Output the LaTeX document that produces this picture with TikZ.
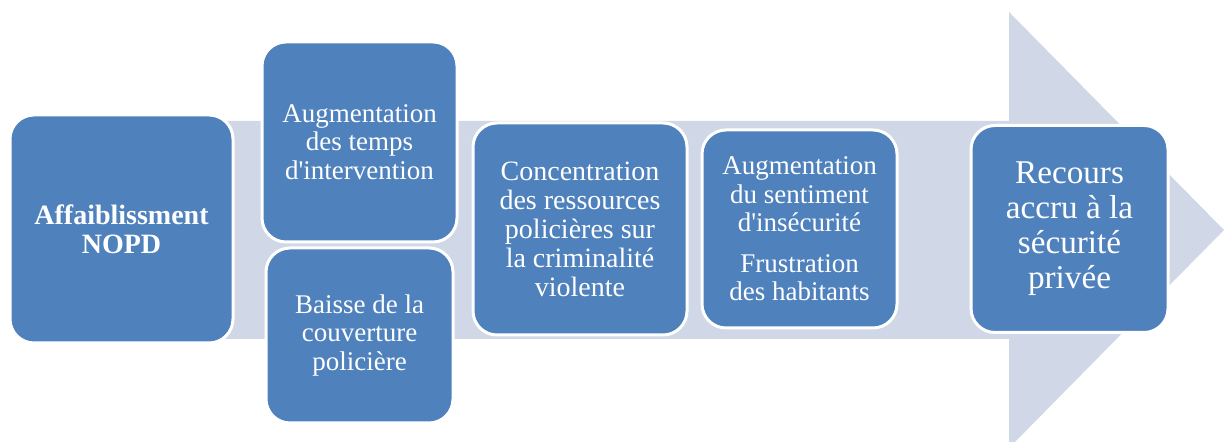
\documentclass[tikz,border=0pt]{standalone}
\usepackage{fontspec}
\setmainfont{Liberation Serif}
\usetikzlibrary{positioning}
\definecolor{stageblue}{RGB}{79,129,189}
\definecolor{arrowgrey}{RGB}{208,216,232}
\tikzset{
  % Boxes laid on the arrow
  stage/.style={rectangle, rounded corners=12pt, draw=white, line width=1.5pt, fill=stageblue, text=white, align=center, inner sep=2pt, font=\fontsize{13.5}{14.3}\selectfont},
  % Background arrow
  bigarrow/.style={fill=arrowgrey, draw=none},
}

\begin{document}
\begin{tikzpicture}[x=0.5pt, y=0.5pt]
    \useasboundingbox (0,0) rectangle (1224,442);

    % Arrow behind the stages
    \fill[bigarrow] (120,103) -- (1009,103) -- (1009,-6) -- (1224,212) -- (1009,430) -- (1009,321) -- (120,321) -- cycle;

    % Stage 1
    \node[stage, minimum width=111.5pt, minimum height=114pt, font=\bfseries\fontsize{14}{14.5}\selectfont] (weak) at (121.5,213) {Affaiblissment\\NOPD};

    % Stage 2
    \node[stage, minimum width=97.5pt, minimum height=100pt] (delay) at (359.5,300) {Augmentation\\des temps\\d\textquotesingle intervention};
    \node[stage, minimum width=93.5pt, minimum height=87.5pt, below=1.5pt of delay] (cover) {Baisse de la\\couverture\\policière};

    % Stage 3
    \node[stage, minimum width=107pt, minimum height=106pt, font=\fontsize{14}{14.5}\selectfont] (focus) at (580,213) {Concentration\\des ressources\\policières sur\\la criminalité\\violente};

    % Stage 4
    \node[stage, minimum width=97.5pt, minimum height=99pt, right=6pt of focus] (fear) {Augmentation\\du sentiment\\d\textquotesingle insécurité\\[6pt]Frustration\\des habitants};

    % Stage 5
    \node[stage, minimum width=98.5pt, minimum height=103.5pt, right=35.5pt of fear, font=\fontsize{16.6}{17.5}\selectfont] (private) {Recours\\accru à la\\sécurité\\privée};
\end{tikzpicture}
\end{document}
